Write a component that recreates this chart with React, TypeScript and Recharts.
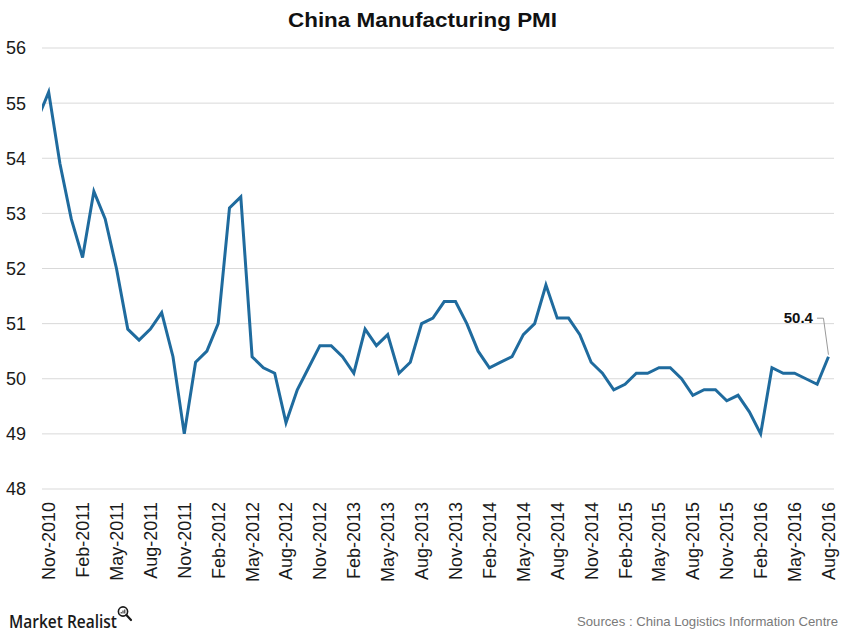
import React from 'react';
import { LineChart, Line, XAxis, YAxis, CartesianGrid } from 'recharts';

// Months from Oct-2010 (index 0, clipped at the left edge) to Aug-2016 (index 70)
const months: string[] = [
  'Oct-2010', 'Nov-2010', 'Dec-2010',
  'Jan-2011', 'Feb-2011', 'Mar-2011', 'Apr-2011', 'May-2011', 'Jun-2011', 'Jul-2011', 'Aug-2011', 'Sep-2011', 'Oct-2011', 'Nov-2011', 'Dec-2011',
  'Jan-2012', 'Feb-2012', 'Mar-2012', 'Apr-2012', 'May-2012', 'Jun-2012', 'Jul-2012', 'Aug-2012', 'Sep-2012', 'Oct-2012', 'Nov-2012', 'Dec-2012',
  'Jan-2013', 'Feb-2013', 'Mar-2013', 'Apr-2013', 'May-2013', 'Jun-2013', 'Jul-2013', 'Aug-2013', 'Sep-2013', 'Oct-2013', 'Nov-2013', 'Dec-2013',
  'Jan-2014', 'Feb-2014', 'Mar-2014', 'Apr-2014', 'May-2014', 'Jun-2014', 'Jul-2014', 'Aug-2014', 'Sep-2014', 'Oct-2014', 'Nov-2014', 'Dec-2014',
  'Jan-2015', 'Feb-2015', 'Mar-2015', 'Apr-2015', 'May-2015', 'Jun-2015', 'Jul-2015', 'Aug-2015', 'Sep-2015', 'Oct-2015', 'Nov-2015', 'Dec-2015',
  'Jan-2016', 'Feb-2016', 'Mar-2016', 'Apr-2016', 'May-2016', 'Jun-2016', 'Jul-2016', 'Aug-2016',
];

const pmi: number[] = [
  54.7, 55.2, 53.9,
  52.9, 52.2, 53.4, 52.9, 52.0, 50.9, 50.7, 50.9, 51.2, 50.4, 49.0, 50.3,
  50.5, 51.0, 53.1, 53.3, 50.4, 50.2, 50.1, 49.2, 49.8, 50.2, 50.6, 50.6,
  50.4, 50.1, 50.9, 50.6, 50.8, 50.1, 50.3, 51.0, 51.1, 51.4, 51.4, 51.0,
  50.5, 50.2, 50.3, 50.4, 50.8, 51.0, 51.7, 51.1, 51.1, 50.8, 50.3, 50.1,
  49.8, 49.9, 50.1, 50.1, 50.2, 50.2, 50.0, 49.7, 49.8, 49.8, 49.6, 49.7,
  49.4, 49.0, 50.2, 50.1, 50.1, 50.0, 49.9, 50.4,
];

const xTickIndexes: number[] = [1, 4, 7, 10, 13, 16, 19, 22, 25, 28, 31, 34, 37, 40, 43, 46, 49, 52, 55, 58, 61, 64, 67, 70];
const yTicks: number[] = [48, 49, 50, 51, 52, 53, 54, 55, 56];

const title = 'China Manufacturing PMI';
const source = 'Sources : China Logistics Information Centre';
const brand = 'Market Realist';

const data = pmi.map((v, i) => ({ i, v }));
const lastIndex = pmi.length - 1;

const FONT = '"Liberation Sans", Arial, sans-serif';

const XTick = (props: any) => {
  const { x, payload } = props;
  return (
    <text
      transform={`translate(${x + 6.5},${502}) rotate(-90)`}
      textAnchor="end"
      fontSize={18}
      fontFamily={FONT}
      fill="#1a1a1a"
    >
      {months[payload.value]}
    </text>
  );
};

const YTick = (props: any) => {
  const { y, payload } = props;
  return (
    <text x={26} y={y} dy="0.355em" textAnchor="end" fontSize={18} fontFamily={FONT} fill="#1a1a1a">
      {payload.value}
    </text>
  );
};

const LastLabel = (props: any) => {
  const { x, y, index, value } = props;
  if (index !== lastIndex) return null;
  return (
    <g>
      <polyline
        points={`${x},${y - 2} ${x - 5},${y - 38.5} ${x - 11.5},${y - 38.5}`}
        fill="none"
        stroke="#9a9a9a"
        strokeWidth={1}
      />
      <text x={x - 15.5} y={y - 33.5} textAnchor="end" fontSize={15} fontWeight="bold" fontFamily={FONT} fill="#111">
        {value}
      </text>
    </g>
  );
};

export default function App() {
  return (
    <div style={{ position: 'absolute', left: 0, top: 0, width: 844, height: 641, background: '#fff' }}>
      <LineChart width={844} height={641} data={data} margin={{ top: 48, right: 10, bottom: 0, left: 0 }}>
        <CartesianGrid horizontal vertical={false} stroke="#d9d9d9" strokeWidth={1} />
        <XAxis
          dataKey="i"
          type="number"
          domain={[0.41, 70.49]}
          allowDataOverflow
          ticks={xTickIndexes}
          interval={0}
          height={152}
          axisLine={false}
          tickLine={false}
          tick={<XTick />}
        />
        <YAxis
          type="number"
          domain={[48, 56]}
          ticks={yTicks}
          interval={0}
          width={42}
          axisLine={false}
          tickLine={false}
          tick={<YTick />}
        />
        <Line
          dataKey="v"
          type="linear"
          stroke="#1f6b9e"
          strokeWidth={3}
          dot={false}
          activeDot={false}
          isAnimationActive={false}
          label={<LastLabel />}
        />
      </LineChart>
      <svg width={844} height={641} style={{ position: 'absolute', left: 0, top: 0, pointerEvents: 'none' }}>
        <text x={288} y={26.5} fontSize={20.5} fontWeight="bold" fontFamily={FONT} fill="#111" textLength={269} lengthAdjust="spacingAndGlyphs">
          {title}
        </text>
        <text x={577} y={626} fontSize={13} fontFamily={FONT} fill="#7a7a7a" textLength={261} lengthAdjust="spacingAndGlyphs">
          {source}
        </text>
        <text x={9} y={628} fontSize={18} fontWeight={600} fontFamily='"Open Sans", sans-serif' fill="#1a1a1a" textLength={108} lengthAdjust="spacingAndGlyphs">
          {brand}
        </text>
        <g>
          <circle cx={123} cy={611.5} r={4.6} fill="none" stroke="#1a1a1a" strokeWidth={1.6} />
          <line x1={126.4} y1={615} x2={131} y2={620} stroke="#1a1a1a" strokeWidth={2.2} strokeLinecap="round" />
          <line x1={121.2} y1={613.5} x2={121.2} y2={612} stroke="#1a1a1a" strokeWidth={1} />
          <line x1={123} y1={613.5} x2={123} y2={610.5} stroke="#1a1a1a" strokeWidth={1} />
          <line x1={124.8} y1={613.5} x2={124.8} y2={609.5} stroke="#1a1a1a" strokeWidth={1} />
        </g>
      </svg>
    </div>
  );
}
